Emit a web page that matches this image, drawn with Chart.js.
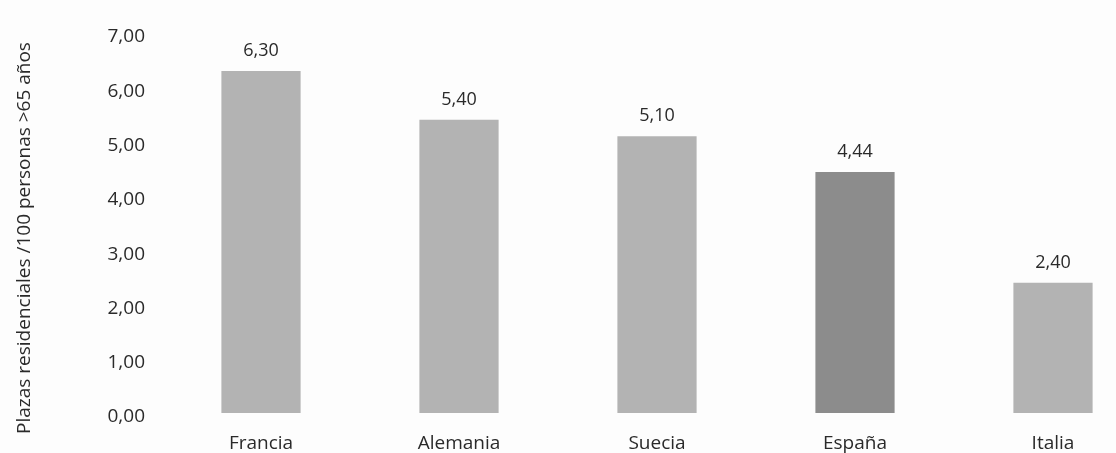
<!DOCTYPE html>
<html>
<head>
<meta charset="utf-8">
<script src="https://cdn.jsdelivr.net/npm/chart.js@4/dist/chart.umd.min.js"></script>
<style>
  html, body { margin: 0; padding: 0; background: #fdfdfd; overflow: hidden; }
  #wrap { width: 1152px; height: 453px; }
</style>
</head>
<body>
<div id="wrap"><canvas id="chart"></canvas></div>
<script>
const countries = ['Francia', 'Alemania', 'Suecia', 'España', 'Italia'];
const plazas = [6.30, 5.40, 5.10, 4.44, 2.40];
const barColors = ['#b3b3b3', '#b3b3b3', '#b3b3b3', '#8c8c8c', '#b3b3b3'];
const yTitle = 'Plazas residenciales /100 personas >65 años';

const fmt = v => Number(v).toFixed(2).replace('.', ',');
const FONT = '"Open Sans", sans-serif';

// value on top of each bar + y title (sits a bit lower than the axis centre)
const extraText = {
  id: 'extraText',
  afterDatasetsDraw(chart) {
    const ctx = chart.ctx;
    const meta = chart.getDatasetMeta(0);
    ctx.save();
    ctx.font = '18px ' + FONT;
    ctx.fillStyle = '#2a2a2a';
    ctx.textAlign = 'center';
    ctx.textBaseline = 'middle';
    meta.data.forEach((bar, i) => {
      ctx.fillText(fmt(plazas[i]), bar.x, bar.y - 20);
    });
    const area = chart.chartArea;
    ctx.font = '19px ' + FONT;
    ctx.translate(25, (area.top + area.bottom) / 2 + 15);
    ctx.rotate(-Math.PI / 2);
    ctx.fillText(yTitle, 0, 0);
    ctx.restore();
  }
};

new Chart(document.getElementById('chart'), {
  type: 'bar',
  data: {
    labels: countries,
    datasets: [{
      data: plazas,
      backgroundColor: barColors,
      borderWidth: 0,
      barPercentage: 0.4,
      categoryPercentage: 1
    }]
  },
  options: {
    responsive: true,
    maintainAspectRatio: false,
    animation: false,
    layout: { padding: { top: 33, left: 0, right: 0, bottom: 0 } },
    plugins: {
      legend: { display: false },
      tooltip: { enabled: false }
    },
    scales: {
      x: {
        grid: { display: false, drawTicks: false },
        border: { display: false },
        ticks: { color: '#2a2a2a', font: { family: FONT, size: 19 }, padding: 19 },
        afterFit: s => { s.height = 40; }
      },
      y: {
        min: 0,
        max: 7,
        grid: { display: false, drawTicks: false },
        border: { display: false },
        ticks: {
          stepSize: 1,
          color: '#2a2a2a',
          font: { family: FONT, size: 19 },
          padding: 17,
          labelOffset: 4,
          callback: v => fmt(v)
        },
        afterFit: s => { s.width = 162; }
      }
    }
  },
  plugins: [extraText]
});
</script>
</body>
</html>
